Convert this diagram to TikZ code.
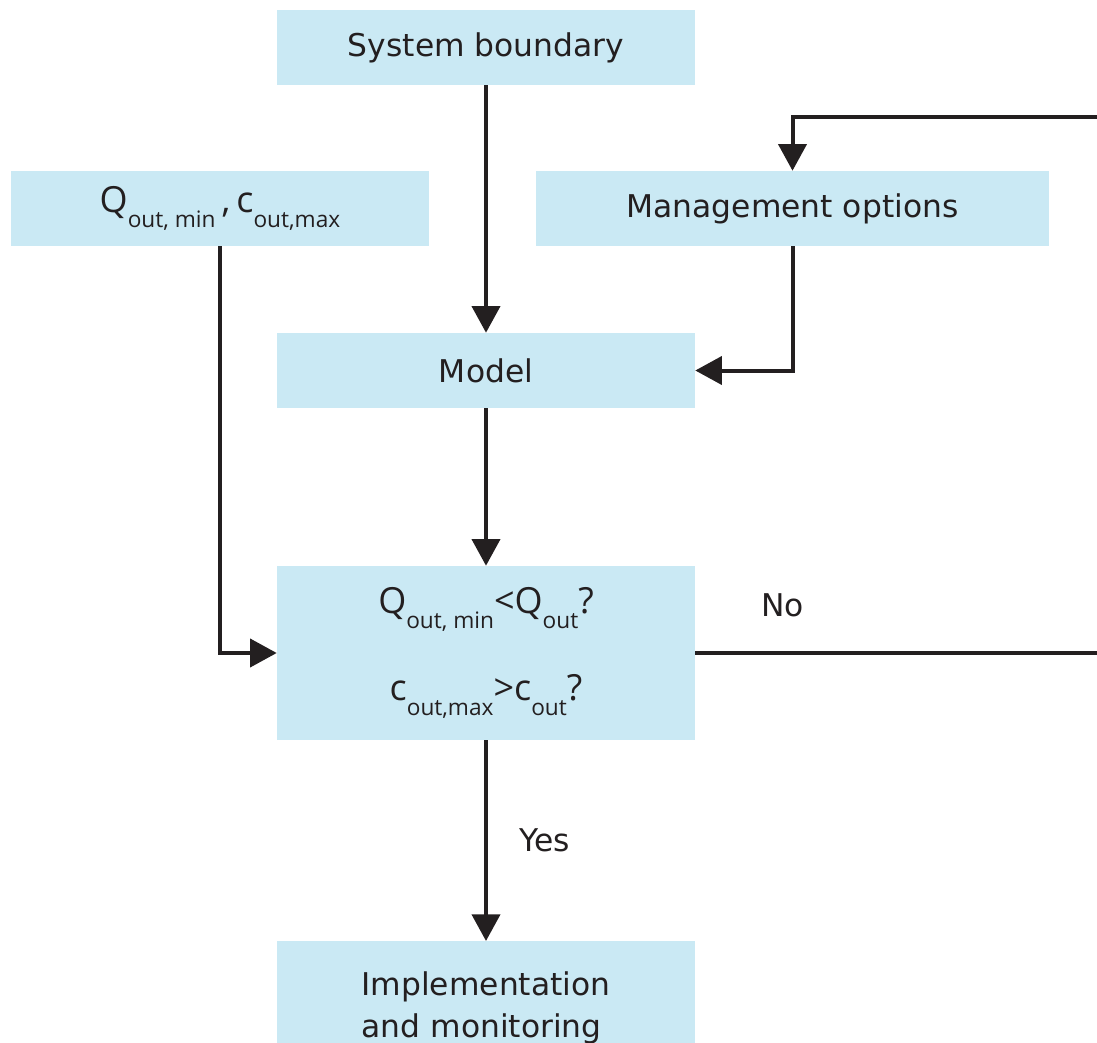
\documentclass[tikz,border=0pt]{standalone}
\usepackage{fontspec}
\setmainfont{DejaVu Sans}
\newfontfamily\formfont{Open Sans}
\usetikzlibrary{arrows.meta}
\definecolor{boxblue}{RGB}{202,233,244}
\definecolor{inkdark}{RGB}{35,31,32}
\newcommand{\lowtxt}[1]{\raisebox{-0.42em}{\fontsize{17}{17}\selectfont #1}}

\begin{document}
\begin{tikzpicture}[x=0.75pt,y=-0.75pt,
    box/.style={fill=boxblue,draw=none,minimum width=313.5pt,minimum height=56.25pt,
        inner sep=0pt,text=inkdark,font=\fontsize{23.5}{28}\selectfont},
    formula/.style={font=\formfont\fontsize{27}{30}\selectfont},
    flow/.style={draw=inkdark,line width=3pt,-{Triangle[length=20pt,width=21pt]}},
    lbl/.style={text=inkdark,font=\fontsize{23.5}{28}\selectfont}]
    \clip (0,0) rectangle (1097,1043);

    % --- BOXES ---
    \node[box] (sys) at (486,47.5) {System boundary};
    \node[box,formula] (lim) at (220,208.5) {Q\lowtxt{out, min}\,,\,c\lowtxt{out,max}};
    \node[box,minimum width=384.75pt] (mgmt) at (792.5,208.5) {Management options};
    \node[box] (model) at (486,370.5) {Model};
    \node[box,formula,minimum height=130.5pt,align=center] (check) at (486,653)
        {Q\lowtxt{out, min}<Q\lowtxt{out}?\\[31pt]c\lowtxt{out,max}>c\lowtxt{out}?};
    \node[box,anchor=north,inner ysep=23pt,align=left,font=\fontsize{23.5}{31}\selectfont]
        (impl) at (486,941) {Implementation\\and monitoring};

    % --- FLOW ---
    \coordinate (loop) at (1110,117);
    \draw[flow] (sys) -- (model);
    \draw[flow] (mgmt.south) |- (model.east);
    \draw[flow] (lim.south) |- (check.west);
    \draw[flow] (model) -- (check);
    \draw[flow] (check) -- node[lbl,right=20pt] {Yes} (impl);

    % --- FEEDBACK LOOP ---
    \draw[flow] (check.east) -- node[lbl,pos=0.21,above=22pt] {No} (check.east -| loop)
        -- (loop) -| (mgmt.north);
\end{tikzpicture}
\end{document}
